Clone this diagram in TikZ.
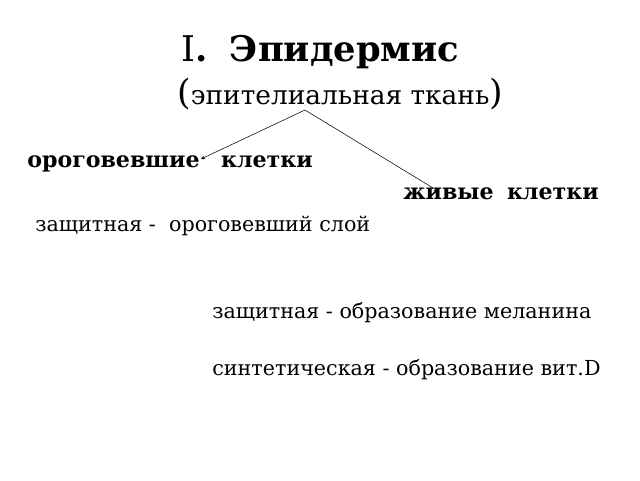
\documentclass[tikz,border=0pt]{standalone}
\usepackage{fontspec}
\setmainfont{DejaVu Serif}
\usetikzlibrary{positioning, arrows}

\begin{document}
\begin{tikzpicture}[
        x=0.75pt, y=-0.75pt,
        txt/.style={anchor=base west, inner sep=0pt, font=\fontsize{15.5}{18}\selectfont},
        head/.style={txt, font=\fontsize{16.6}{18}\selectfont\bfseries},
        arrow/.style={->, >=stealth, thin, shorten >=0pt}
    ]
    \useasboundingbox (0,0) rectangle (640,480);

    % Title
    \node[txt, font=\fontsize{26.5}{30}\selectfont] (title) at (181,61) {I\textbf{.}\ \ \textbf{Эпидермис}};
    \node[txt, font=\fontsize{19.8}{22}\selectfont] (sub) at (177,104) {{\fontsize{26}{28}\selectfont(}эпителиальная ткань{\fontsize{26}{28}\selectfont)}};
    \coordinate (apex) at (305,110);

    % Cells
    \node[head] (dead) at (27,167) {ороговевшие\hspace{16pt}клетки};
    \node[head] (live) at (403,199) {живые\hspace{10pt}клетки};
    \coordinate (deadtip) at (201,159);
    \coordinate (livetip) at (438,191);

    % Functions
    \node[txt] (f1) at (35,231) {защитная -\ \ ороговевший слой};
    \node[txt] (f2) at (212,318) {защитная - образование меланина};
    \node[txt] (f3) at (212,375) {синтетическая - образование вит.D};

    % Arrows
    \draw[arrow] (apex) -- (deadtip);
    \draw[arrow] (apex) -- (livetip);
\end{tikzpicture}
\end{document}
